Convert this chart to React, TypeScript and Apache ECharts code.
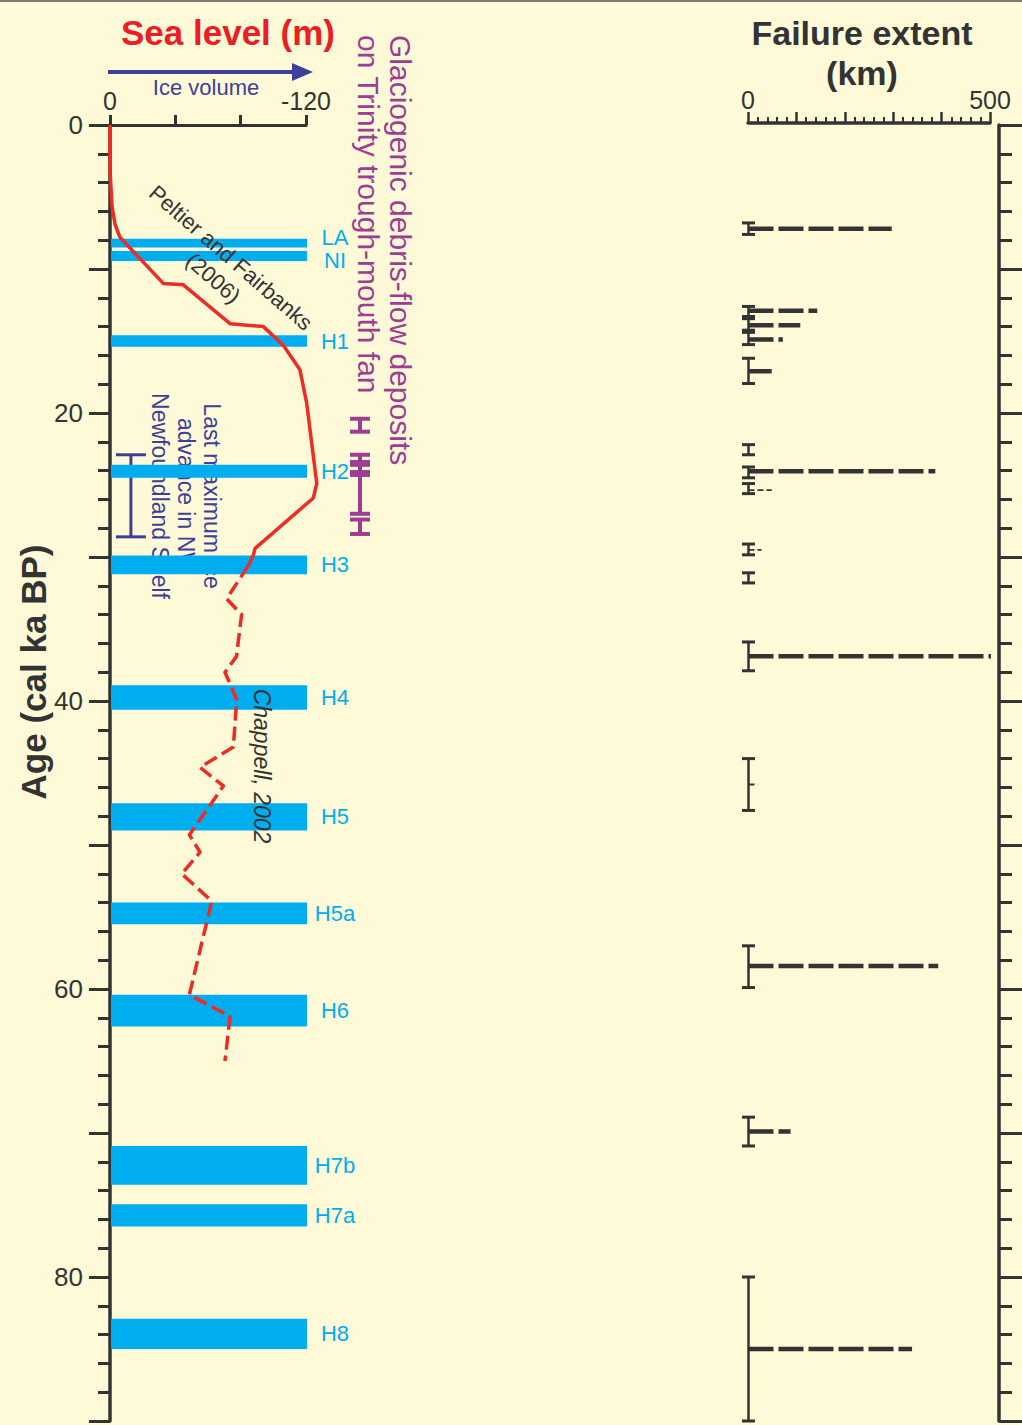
import React, { useEffect, useRef } from "react";
import * as echarts from "echarts";

// ---------- data ----------
// Sea level curve, Peltier & Fairbanks (2006) — solid
const seaSolidAge = [0, 3.1, 5.6, 6.9, 7.8, 11.0, 11.1, 13.8, 14.0, 15.3, 17.0, 19.3, 24.9, 25.9, 29.4, 29.9, 30.6];
const seaSolidLevel = [0, 0, -1.2, -3.1, -6.1, -32.6, -44.9, -73.5, -93.9, -106.1, -116.3, -120.4, -126.6, -124.5, -88.8, -87.7, -84.7];
// Sea level curve, Chappell (2002) — dashed
const seaDashAge = [30.6, 32.9, 34.0, 35.8, 36.9, 38.0, 39.9, 43.2, 44.6, 45.9, 49.3, 50.5, 52.0, 53.9, 60.4, 61.9, 65.0];
const seaDashLevel = [-84.7, -71.4, -80.6, -78.6, -77.5, -70.4, -77.6, -75.5, -55.1, -69.4, -48.6, -55.1, -43.9, -62.3, -48.6, -73.5, -70.4];

// Heinrich events (ka)
const heinNames = ["LA", "NI", "H1", "H2", "H3", "H4", "H5", "H5a", "H6", "H7b", "H7a", "H8"];
const heinStart = [7.9, 8.75, 14.6, 23.6, 29.9, 38.9, 47.1, 54.0, 60.4, 70.9, 74.95, 82.9];
const heinEnd = [8.5, 9.45, 15.4, 24.5, 31.2, 40.6, 49.0, 55.5, 62.6, 73.6, 76.5, 85.0];

// Failure events: age, error range, extent (km), thin line flag
const failAge = [7.2, 12.9, 13.9, 14.9, 17.1, 22.5, 24.05, 25.35, 29.5, 31.5, 36.9, 45.8, 58.4, 69.9, 85.0];
const failLow = [6.8, 12.6, 13.45, 14.4, 16.2, 22.2, 23.75, 24.9, 29.1, 31.1, 35.9, 44.0, 57.0, 68.9, 80.0];
const failHigh = [7.6, 13.3, 14.25, 15.25, 17.95, 22.9, 24.5, 25.6, 29.85, 31.8, 37.9, 47.6, 59.9, 70.9, 90.0];
const failExtent = [297, 143, 108, 72, 49, 0, 387, 49, 28, 0, 502, 20, 393, 88, 339];
const failThin = [0, 0, 0, 0, 0, 0, 0, 1, 1, 0, 0, 1, 0, 0, 0];

// Glaciogenic debris-flow deposits (age ranges, ka)
const depositLow = [20.4, 22.9, 23.4, 24.3, 27.4];
const depositHigh = [21.3, 23.6, 24.1, 27.0, 28.4];

// Last maximum ice advance in NW Newfoundland Shelf (age range, ka)
const lgmLow = [22.9];
const lgmHigh = [28.6];

// axis ticks
const ageTickLabels = [0, 20, 40, 60, 80];
const seaTickLabels = [0, -120];
const failTickLabels = [0, 500];

// ---------- layout / style ----------
const FONT = '"Liberation Sans", Arial, Helvetica, sans-serif';
const BG = "#fefad8";
const AXIS = "#333333";
const RED = "#ee2b24";
const CYAN = "#00aeef";
const NAVY = "#3d3f98";
const PURPLE = "#9e3d92";
const heinLabelShift = [-6, 4, 0, 0, 0, 0, 0, 0, 0, 0, 0, 0];

const curveSeries = (levels: number[], ages: number[], dash: number[] | null) => ({
  type: "custom",
  xAxisIndex: 0,
  yAxisIndex: 0,
  z: 4,
  clip: false,
  encode: { x: 0, y: 1 },
  data: levels.map((v, i) => [v, ages[i]]),
  renderItem: (params: any, api: any) => {
    if (params.dataIndex !== 0) return null;
    const pts = levels.map((v, i) => api.coord([v, ages[i]]));
    return {
      type: "polyline",
      shape: { points: pts },
      style: {
        stroke: RED,
        fill: null,
        lineWidth: 3.5,
        lineDash: dash || undefined,
        lineJoin: "round",
      },
    };
  },
});

export default function App() {
  const ref = useRef<HTMLDivElement>(null);

  useEffect(() => {
    document.body.style.margin = "0";
    const chart = echarts.init(ref.current as HTMLDivElement, undefined, { renderer: "svg" });

    const txt = (extra: any) => ({
      type: "text",
      z: 10,
      ...extra,
      style: {
        textAlign: "center",
        textVerticalAlign: "middle",
        align: "center",
        verticalAlign: "middle",
        ...extra.style,
      },
    });

    const option: any = {
      animation: false,
      backgroundColor: BG,
      grid: [
        { left: 110, top: 125, width: 196, height: 1296 },
        { left: 748, top: 125, width: 242, height: 1296 },
        { left: 340, top: 125, width: 40, height: 1296 },
      ],
      xAxis: [
        {
          gridIndex: 0,
          type: "value",
          position: "top",
          min: -120,
          max: 0,
          interval: 40,
          inverse: true,
          axisLine: { show: true, onZero: false, lineStyle: { color: AXIS, width: 3 } },
          axisTick: { show: true, length: 10, lineStyle: { color: AXIS, width: 3 } },
          axisLabel: {
            fontSize: 25,
            fontFamily: FONT,
            color: AXIS,
            margin: 12,
            formatter: (v: number) => (seaTickLabels.indexOf(Math.round(v)) >= 0 ? String(Math.round(v)) : ""),
          },
          splitLine: { show: false },
        },
        {
          gridIndex: 1,
          type: "value",
          position: "top",
          min: 0,
          max: 500,
          interval: 100,
          offset: 2,
          axisLine: { show: true, onZero: false, lineStyle: { color: AXIS, width: 3.5 } },
          axisTick: { show: true, length: 11, lineStyle: { color: AXIS, width: 2.5 } },
          minorTick: { show: true, splitNumber: 5, length: 6, lineStyle: { color: AXIS, width: 2 } },
          axisLabel: {
            fontSize: 25,
            fontFamily: FONT,
            color: AXIS,
            margin: 11,
            formatter: (v: number) => (failTickLabels.indexOf(Math.round(v)) >= 0 ? String(Math.round(v)) : ""),
          },
          splitLine: { show: false },
        },
        { gridIndex: 2, type: "value", min: 0, max: 1, show: false },
      ],
      yAxis: [
        {
          gridIndex: 0,
          type: "value",
          min: 0,
          max: 90,
          interval: 10,
          inverse: true,
          position: "left",
          axisLine: { show: true, onZero: false, lineStyle: { color: AXIS, width: 3.5 } },
          axisTick: { show: true, length: 21, lineStyle: { color: AXIS, width: 3 } },
          minorTick: { show: true, splitNumber: 5, length: 12, lineStyle: { color: AXIS, width: 3 } },
          axisLabel: {
            fontSize: 26,
            fontFamily: FONT,
            color: AXIS,
            margin: 27,
            formatter: (v: number) => (ageTickLabels.indexOf(Math.round(v)) >= 0 ? String(Math.round(v)) : ""),
          },
          splitLine: { show: false },
        },
        {
          gridIndex: 1,
          type: "value",
          min: 0,
          max: 90,
          interval: 10,
          inverse: true,
          position: "right",
          offset: 9,
          axisLine: { show: true, onZero: false, lineStyle: { color: AXIS, width: 3.5 } },
          axisTick: { show: true, length: 25, lineStyle: { color: AXIS, width: 3 } },
          minorTick: { show: true, splitNumber: 5, length: 13, lineStyle: { color: AXIS, width: 3 } },
          axisLabel: { show: false },
          splitLine: { show: false },
        },
        { gridIndex: 2, type: "value", min: 0, max: 90, inverse: true, show: false },
      ],
      series: [
        // LGM ice advance bar (navy)
        {
          type: "custom",
          xAxisIndex: 0,
          yAxisIndex: 0,
          z: 1,
          clip: false,
          encode: { x: 0, y: [1, 2] },
          data: lgmLow.map((l, i) => [-12.8, l, lgmHigh[i]]),
          renderItem: (params: any, api: any) => {
            const a = api.coord([api.value(0), api.value(1)]);
            const b = api.coord([api.value(0), api.value(2)]);
            const s = { stroke: NAVY, lineWidth: 3 };
            return {
              type: "group",
              children: [
                { type: "line", shape: { x1: a[0], y1: a[1], x2: b[0], y2: b[1] }, style: s },
                { type: "line", shape: { x1: a[0] - 15, y1: a[1], x2: a[0] + 15, y2: a[1] }, style: s },
                { type: "line", shape: { x1: b[0] - 15, y1: b[1], x2: b[0] + 15, y2: b[1] }, style: s },
              ],
            };
          },
        },
        // Heinrich bands
        {
          type: "custom",
          xAxisIndex: 0,
          yAxisIndex: 0,
          z: 2,
          clip: false,
          encode: { x: 0, y: [1, 2] },
          data: heinStart.map((s, i) => [-60, s, heinEnd[i], i]),
          renderItem: (params: any, api: any) => {
            const i = api.value(3);
            const p1 = api.coord([0, api.value(1)]);
            const p2 = api.coord([-120, api.value(2)]);
            return {
              type: "group",
              children: [
                {
                  type: "rect",
                  shape: { x: p1[0] + 1, y: p1[1], width: p2[0] - p1[0], height: p2[1] - p1[1] },
                  style: { fill: CYAN },
                },
                {
                  type: "text",
                  x: p2[0] + 29,
                  y: (p1[1] + p2[1]) / 2 + heinLabelShift[i],
                  style: {
                    text: heinNames[i],
                    fill: CYAN,
                    font: `22px ${FONT}`,
                    lineHeight: 20,
                    textAlign: "center",
                    textVerticalAlign: "middle",
                    align: "center",
                    verticalAlign: "middle",
                  },
                },
              ],
            };
          },
        },
        // Sea level curves
        curveSeries(seaSolidLevel, seaSolidAge, null),
        curveSeries(seaDashLevel, seaDashAge, [14, 6]),
        // Failure extents
        {
          type: "custom",
          xAxisIndex: 1,
          yAxisIndex: 1,
          z: 3,
          clip: false,
          encode: { x: 0, y: [1, 2, 3] },
          data: failAge.map((a, i) => [failExtent[i], a, failLow[i], failHigh[i], failThin[i]]),
          renderItem: (params: any, api: any) => {
            const ext = api.value(0);
            const c = api.value(1);
            const lo = api.coord([0, api.value(2)]);
            const hi = api.coord([0, api.value(3)]);
            const mid = api.coord([0, c]);
            const end = api.coord([ext, c]);
            const thin = api.value(4) === 1;
            const x = lo[0] + 0.5;
            const s = { stroke: AXIS, lineWidth: 2.5 };
            const cap = { stroke: AXIS, lineWidth: 3 };
            const children: any[] = [
              { type: "line", shape: { x1: x, y1: lo[1], x2: x, y2: hi[1] }, style: s },
              { type: "line", shape: { x1: x - 6.5, y1: lo[1], x2: x + 6.5, y2: lo[1] }, style: cap },
              { type: "line", shape: { x1: x - 6.5, y1: hi[1], x2: x + 6.5, y2: hi[1] }, style: cap },
            ];
            if (ext > 0) {
              children.push({
                type: "line",
                shape: { x1: x, y1: mid[1], x2: end[0], y2: mid[1] },
                style: {
                  stroke: AXIS,
                  lineWidth: thin ? 1.8 : 4.5,
                  lineDash: thin ? [6, 3] : [25, 5],
                },
              });
            }
            return { type: "group", children };
          },
        },
        // Glaciogenic debris-flow deposits (purple)
        {
          type: "custom",
          xAxisIndex: 2,
          yAxisIndex: 2,
          z: 3,
          clip: false,
          encode: { x: 0, y: [1, 2] },
          data: depositLow.map((l, i) => [0.5, l, depositHigh[i]]),
          renderItem: (params: any, api: any) => {
            const a = api.coord([api.value(0), api.value(1)]);
            const b = api.coord([api.value(0), api.value(2)]);
            const s = { stroke: PURPLE, lineWidth: 4 };
            return {
              type: "group",
              children: [
                { type: "line", shape: { x1: a[0], y1: a[1], x2: b[0], y2: b[1] }, style: s },
                { type: "line", shape: { x1: a[0] - 10, y1: a[1], x2: a[0] + 10, y2: a[1] }, style: s },
                { type: "line", shape: { x1: b[0] - 10, y1: b[1], x2: b[0] + 10, y2: b[1] }, style: s },
              ],
            };
          },
        },
      ],
      graphic: [
        { type: "rect", z: 10, shape: { x: 0, y: 0, width: 1022, height: 2 }, style: { fill: "#7a7a7a" } },
        txt({ x: 228, y: 32, style: { text: "Sea level (m)", fill: "#ee1d24", font: `bold 35px ${FONT}` } }),
        { type: "line", z: 10, shape: { x1: 108, y1: 72, x2: 296, y2: 72 }, style: { stroke: NAVY, lineWidth: 4 } },
        { type: "polygon", z: 10, shape: { points: [[292, 63], [313, 72], [292, 81]] }, style: { fill: NAVY } },
        txt({ x: 206, y: 87, style: { text: "Ice volume", fill: NAVY, font: `22px ${FONT}` } }),
        {
          type: "text",
          z: 10,
          x: 384,
          y: 35,
          rotation: -Math.PI / 2,
          style: {
            text: "Glaciogenic debris-flow deposits\non Trinity trough-mouth fan",
            fill: PURPLE,
            font: `30px ${FONT}`,
            lineHeight: 32,
            textAlign: "left",
            align: "left",
            textVerticalAlign: "middle",
            verticalAlign: "middle",
          },
        },
        txt({
          x: 862,
          y: 53,
          style: { text: "Failure extent\n(km)", fill: AXIS, font: `bold 34px ${FONT}`, lineHeight: 40 },
        }),
        txt({
          x: 33,
          y: 672,
          rotation: Math.PI / 2,
          style: { text: "Age (cal ka BP)", fill: AXIS, font: `bold 35px ${FONT}` },
        }),
        txt({
          x: 222,
          y: 268,
          rotation: (-41 * Math.PI) / 180,
          style: { text: "Peltier and Fairbanks\n(2006)", fill: AXIS, font: `22px ${FONT}`, lineHeight: 27 },
        }),
        txt({
          x: 262,
          y: 766,
          rotation: -Math.PI / 2,
          style: { text: "Chappell, 2002", fill: AXIS, font: `italic 23px ${FONT}` },
        }),
        txt({
          x: 186,
          y: 496,
          z: 0,
          rotation: -Math.PI / 2,
          style: {
            text: "Last maximum ice\nadvance in NW\nNewfoundland Shelf",
            fill: NAVY,
            font: `23px ${FONT}`,
            lineHeight: 26,
          },
        }),
      ],
    };

    chart.setOption(option);
    return () => chart.dispose();
  }, []);

  return <div ref={ref} style={{ width: 1022, height: 1425 }} />;
}
